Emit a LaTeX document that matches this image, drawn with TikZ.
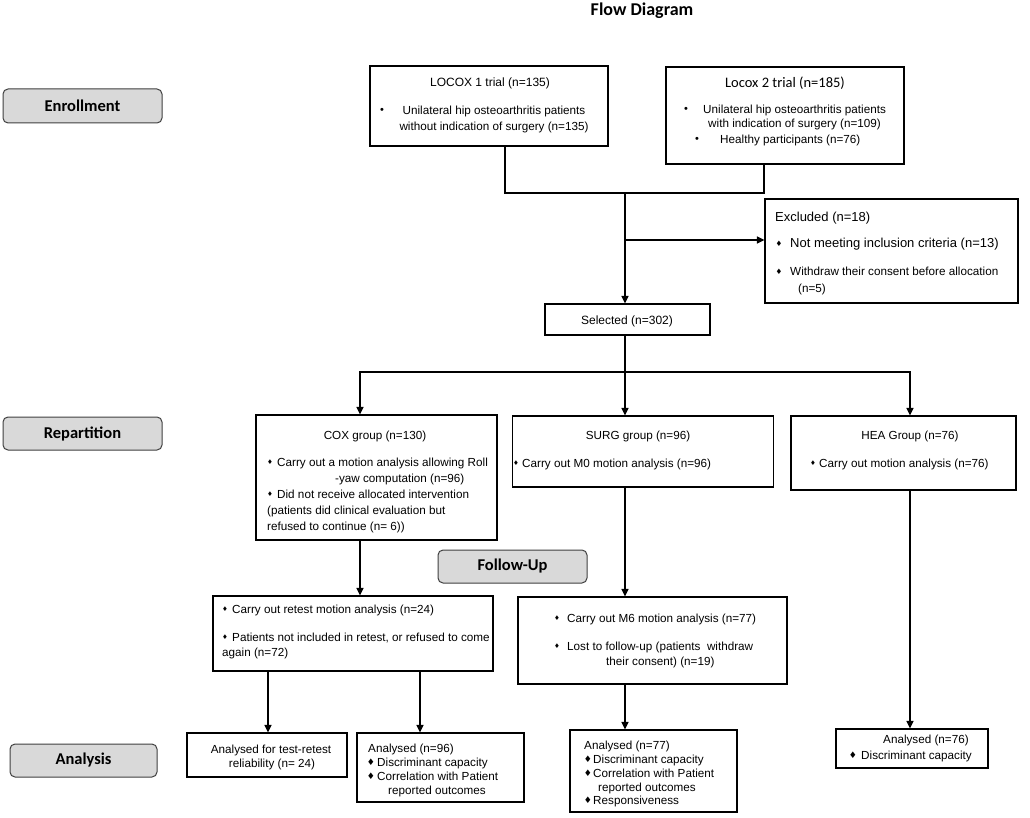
\documentclass[tikz,border=0pt]{standalone}
\usepackage{fontspec}
\setmainfont{Liberation Sans}
\newfontfamily\carlito{Carlito}
\newfontfamily\symf{DejaVu Sans}
\usetikzlibrary{arrows.meta}
\begin{document}
\begin{tikzpicture}[x=1pt,y=-1pt,
  box/.style={draw=black,line width=1.1pt,inner sep=0pt,fill=white},
  lab/.style={draw=black!75,fill=black!15,rounded corners=5pt,line width=1pt,inner sep=0pt,font=\carlito\bfseries\fontsize{16.5}{18}\selectfont},
  tx/.style={inner sep=0pt,font=\fontsize{11.7}{14}\selectfont,anchor=base west},
  txc/.style={tx,anchor=base},
  txb/.style={tx,font=\fontsize{13}{15}\selectfont},
  conn/.style={line width=1.5pt,line cap=rect},
  arr/.style={line width=1.5pt,-{Triangle[length=7.5pt,width=7pt]}},
  bs/.style={inner sep=0pt,font=\symf\fontsize{6.5}{7}\selectfont},
  bx/.style={inner sep=0pt,font=\symf\fontsize{7.5}{8}\selectfont},
  bm/.style={inner sep=0pt,font=\symf\fontsize{9}{9}\selectfont},
  br/.style={inner sep=0pt,font=\fontsize{11}{12}\selectfont}
]
\fill[white] (0,0) rectangle (1030,818);
\useasboundingbox (0,0) rectangle (1030,818);

% title
\node[inner sep=0pt,anchor=base,font=\carlito\bfseries\fontsize{18}{20}\selectfont] (title) at (642,16) {Flow Diagram};

% stage labels
\node[lab,minimum width=159pt,minimum height=34pt] (enr) at (82.5,106) {Enrollment};
\node[lab,minimum width=159pt,minimum height=33pt] (rep) at (82.5,433.5) {Repartition};
\node[lab,minimum width=149pt,minimum height=33pt] (fu) at (512.5,566.5) {Follow-Up};
\node[lab,minimum width=147pt,minimum height=33pt] (ana) at (83.5,760.5) {Analysis};

% boxes
\node[box,minimum width=238pt,minimum height=80pt] (locox1) at (489,106) {};
\node[box,minimum width=238pt,minimum height=97pt] (locox2) at (785,115.5) {};
\node[box,minimum width=253pt,minimum height=104pt] (excl) at (891.5,251) {};
\node[box,minimum width=165pt,minimum height=31pt] (sel) at (627.5,319.5) {};
\node[box,minimum width=241pt,minimum height=125pt] (cox) at (376.5,477.5) {};
\node[box,minimum width=261pt,minimum height=71pt] (surg) at (643,451.5) {};
\node[box,minimum width=225pt,minimum height=74pt] (hea) at (903.5,453) {};
\node[box,minimum width=280pt,minimum height=75pt] (retest) at (353,633.5) {};
\node[box,minimum width=269pt,minimum height=87pt] (m6) at (652.5,640.5) {};
\node[box,minimum width=160pt,minimum height=44pt] (a24) at (267,755) {};
\node[box,minimum width=167pt,minimum height=69pt] (a96) at (440.5,767.5) {};
\node[box,minimum width=167pt,minimum height=82pt] (a77) at (653.5,771) {};
\node[box,minimum width=152pt,minimum height=39pt] (a76) at (912,748.5) {};

% LOCOX 1 text
\node[txc,font=\fontsize{12}{14}\selectfont] (l1a) at (490,87) {LOCOX 1 trial (n=135)};
\node[br] (l1b) at (382,111) {•};
\node[txc] (l1c) at (494,115) {Unilateral hip osteoarthritis patients};
\node[txc] (l1d) at (494,131) {without indication of surgery (n=135)};

% Locox 2 text
\node[inner sep=0pt,anchor=base,font=\carlito\fontsize{14.5}{16}\selectfont] (l2a) at (785,88) {Locox 2 trial (n=185)};
\node[br] (l2b) at (686,110) {•};
\node[tx] (l2c) at (703,114) {Unilateral hip osteoarthritis patients};
\node[tx] (l2d) at (708,128) {with indication of surgery (n=109)};
\node[br] (l2e) at (697,140) {•};
\node[tx] (l2f) at (720,144) {Healthy participants (n=76)};

% Excluded text
\node[txb] (e1) at (775,222) {Excluded (n=18)};
\node[bx] (e2) at (779,244) {♦};
\node[txb] (e3) at (790,248) {Not meeting inclusion criteria (n=13)};
\node[bx] (e4) at (779,272) {♦};
\node[tx] (e5) at (790,276) {Withdraw their consent before allocation};
\node[tx] (e6) at (798,292) {(n=5)};

% Selected
\node[txc,font=\fontsize{12}{14}\selectfont] (s1) at (627,324) {Selected (n=302)};

% COX text
\node[txc] (c1) at (375,439) {COX group (n=130)};
\node[bs] (c2) at (270,462) {♦};
\node[tx] (c3) at (277,466) {Carry out a motion analysis allowing Roll};
\node[tx] (c4) at (335,482) {-yaw computation (n=96)};
\node[bs] (c5) at (270,494) {♦};
\node[tx] (c6) at (277,498) {Did not receive allocated intervention};
\node[tx] (c7) at (267,514) {(patients did clinical evaluation but};
\node[tx] (c8) at (267,530) {refused to continue (n= 6))};

% SURG text
\node[txc] (g1) at (638,439) {SURG group (n=96)};
\node[bs] (g2) at (516,463) {♦};
\node[tx] (g3) at (522,467) {Carry out M0 motion analysis (n=96)};

% HEA text
\node[txc] (h1) at (910,439) {HEA Group (n=76)};
\node[bs] (h2) at (813,463) {♦};
\node[tx] (h3) at (819,467) {Carry out motion analysis (n=76)};

% retest text
\node[bs] (r1) at (225,609) {♦};
\node[tx] (r2) at (232,613) {Carry out retest motion analysis (n=24)};
\node[bs] (r3) at (225,637) {♦};
\node[tx] (r4) at (232,641) {Patients not included in retest, or refused to come};
\node[tx] (r5) at (222,656) {again (n=72)};

% M6 text
\node[bs] (m1) at (557,618) {♦};
\node[tx] (m2) at (567,622) {Carry out M6 motion analysis (n=77)};
\node[bs] (m3) at (557,646) {♦};
\node[tx] (m4) at (567,650) {Lost to follow-up (patients\ \ withdraw};
\node[tx] (m5) at (606,665) {their consent) (n=19)};

% analysed 24
\node[txc] (p1) at (271,753) {Analysed for test-retest};
\node[txc] (p2) at (272,767) {reliability (n= 24)};

% analysed 96
\node[tx] (q1) at (368,752) {Analysed (n=96)};
\node[bm] (q2) at (371,762) {♦};
\node[tx] (q3) at (377,766) {Discriminant capacity};
\node[bm] (q4) at (371,776) {♦};
\node[tx] (q5) at (377,780) {Correlation with Patient};
\node[tx] (q6) at (388,794) {reported outcomes};

% analysed 77
\node[tx] (u1) at (584,749) {Analysed (n=77)};
\node[bm] (u2) at (588,759) {♦};
\node[tx] (u3) at (593,763) {Discriminant capacity};
\node[bm] (u4) at (588,773) {♦};
\node[tx] (u5) at (593,777) {Correlation with Patient};
\node[tx] (u6) at (598,791) {reported outcomes};
\node[bm] (u7) at (588,800) {♦};
\node[tx] (u8) at (593,804) {Responsiveness};

% analysed 76
\node[tx] (v1) at (883,743) {Analysed (n=76)};
\node[bm] (v2) at (853,755) {♦};
\node[tx] (v3) at (861,759) {Discriminant capacity};

% connector coordinates
\coordinate (j1) at (505,193);
\coordinate (j2) at (764,193);
\coordinate (j3) at (625,193);
\coordinate (j4) at (625,240);
\coordinate (h0) at (625,372);
\coordinate (hL) at (360,372);
\coordinate (hR) at (910,372);
\coordinate (k1) at (268,700);
\coordinate (k2) at (420,700);

% connectors
\draw[conn] (locox1.south -| j1) -- (j1) -- (j2) -- (locox2.south -| j2);
\draw[arr] (j3) -- (sel.north -| j3);
\draw[arr] (j4) -- (excl.west |- j4);
\draw[conn] (sel.south -| h0) -- (h0);
\draw[conn] (hL) -- (hR);
\draw[arr] (hL) -- (cox.north -| hL);
\draw[arr] (h0) -- (surg.north -| h0);
\draw[arr] (hR) -- (hea.north -| hR);
\draw[arr] (cox.south -| hL) -- (retest.north -| hL);
\draw[arr] (retest.south -| k1) -- (a24.north -| k1);
\draw[arr] (retest.south -| k2) -- (a96.north -| k2);
\draw[arr] (surg.south -| h0) -- (m6.north -| h0);
\draw[arr] (m6.south -| h0) -- (a77.north -| h0);
\draw[arr] (hea.south -| hR) -- (a76.north -| hR);
\end{tikzpicture}
\end{document}
